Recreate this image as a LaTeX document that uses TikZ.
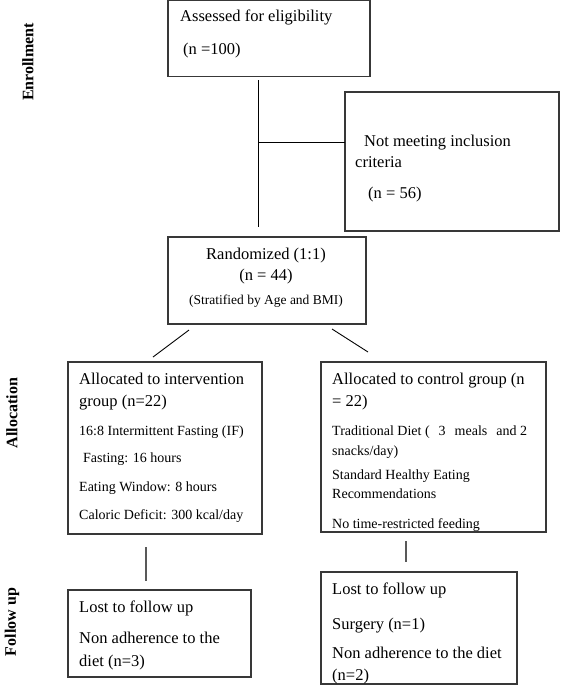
\documentclass[tikz,border=0pt]{standalone}
\usepackage{fontspec}
\setmainfont{Liberation Serif}
\begin{document}
\begin{tikzpicture}[x=1pt,y=-1pt,
  box/.style={draw=black!78, line width=1.2pt, inner sep=0pt, outer sep=0pt, anchor=north west},
  maintxt/.style={font=\fontsize{16.5}{20}\selectfont, inner sep=0pt, anchor=base west},
  smalltxt/.style={font=\fontsize{14}{17}\selectfont, inner sep=0pt, anchor=base west},
  link/.style={draw=black, line width=0.9pt},
  graylink/.style={draw=black!65, line width=1.3pt},
  phase/.style={font=\bfseries\fontsize{16}{18}\selectfont, rotate=90, inner sep=0pt}]
\useasboundingbox (0,0) rectangle (560,685);

% boxes
\node[box, minimum width=202pt, minimum height=76pt] (assess) at (168,0.6) {};
\node[box, minimum width=214pt, minimum height=139pt] (notmeet) at (345,92) {};
\node[box, minimum width=198pt, minimum height=87pt] (rand) at (168,237) {};
\node[box, minimum width=194pt, minimum height=172pt] (allocL) at (68,362) {};
\node[box, minimum width=225pt, minimum height=170pt] (allocR) at (321,362) {};
\node[box, minimum width=183pt, minimum height=87pt] (fuL) at (68,590) {};
\node[box, minimum width=196pt, minimum height=112pt] (fuR) at (321,572) {};

% texts
\node[maintxt] (t1) at (180,22) {Assessed for eligibility};
\node[maintxt] (t2) at (183,55) {(n =100)};

\node[maintxt] (t3) at (364,146) {Not meeting inclusion};
\node[maintxt] (t4) at (355,167) {criteria};
\node[maintxt] (t5) at (368,198) {(n = 56)};

\node[maintxt, anchor=base] (t6) at (266,259) {Randomized (1:1)};
\node[maintxt, anchor=base] (t7) at (266,280) {(n = 44)};
\node[smalltxt, anchor=base, font=\fontsize{13.5}{16}\selectfont] (t8) at (266,304) {(Stratified by Age and BMI)};

\node[maintxt] (t9) at (79,384) {Allocated to intervention};
\node[maintxt] (t10) at (79,406) {group (n=22)};
\node[smalltxt] (t11) at (79,435) {16:8 Intermittent Fasting (IF)};
\node[smalltxt] (t12) at (83,462) {Fasting: 16 hours};
\node[smalltxt] (t13) at (79,491) {Eating Window: 8 hours};
\node[smalltxt] (t14) at (79,519) {Caloric Deficit: 300 kcal/day};

\node[maintxt] (t15) at (332,384) {Allocated to control group (n};
\node[maintxt] (t16) at (332,406) {= 22)};
\node[smalltxt] (t17) at (332,435) {Traditional Diet (\hspace{9pt}3\hspace{9pt}meals\hspace{9pt}and 2};
\node[smalltxt] (t18) at (332,455) {snacks/day)};
\node[smalltxt] (t19) at (332,479) {Standard Healthy Eating};
\node[smalltxt] (t20) at (332,498) {Recommendations};
\node[smalltxt] (t21) at (332,528) {No time-restricted feeding};

\node[maintxt] (t22) at (79,612) {Lost to follow up};
\node[maintxt] (t23) at (79,643) {Non adherence to the};
\node[maintxt] (t24) at (79,666) {diet (n=3)};

\node[maintxt] (t25) at (332,594) {Lost to follow up};
\node[maintxt] (t26) at (332,629) {Surgery (n=1)};
\node[maintxt] (t27) at (332,658) {Non adherence to the diet};
\node[maintxt] (t28) at (332,680) {(n=2)};

% phase labels
\node[phase] (pEnroll) at (28,62) {Enrollment};
\node[phase] (pAlloc) at (12,413) {Allocation};
\node[phase] (pFollow) at (12,622) {Follow up};

% connector coordinates
\coordinate (a1) at (258,80);
\coordinate (a2) at (258,227);
\coordinate (j1) at (258,142);
\coordinate (d1a) at (189,330);
\coordinate (d1b) at (153,357);
\coordinate (d2a) at (332,329);
\coordinate (d2b) at (368,352);
\coordinate (v2a) at (146,547);
\coordinate (v2b) at (146,581);
\coordinate (v3a) at (406,541);
\coordinate (v3b) at (406,562);

\draw[link] (a1) -- (a2);
\draw[link] (j1) -- (notmeet.west |- j1);
\draw[link] (d1a) -- (d1b);
\draw[link] (d2a) -- (d2b);
\draw[graylink] (v2a) -- (v2b);
\draw[graylink] (v3a) -- (v3b);
\end{tikzpicture}
\end{document}
